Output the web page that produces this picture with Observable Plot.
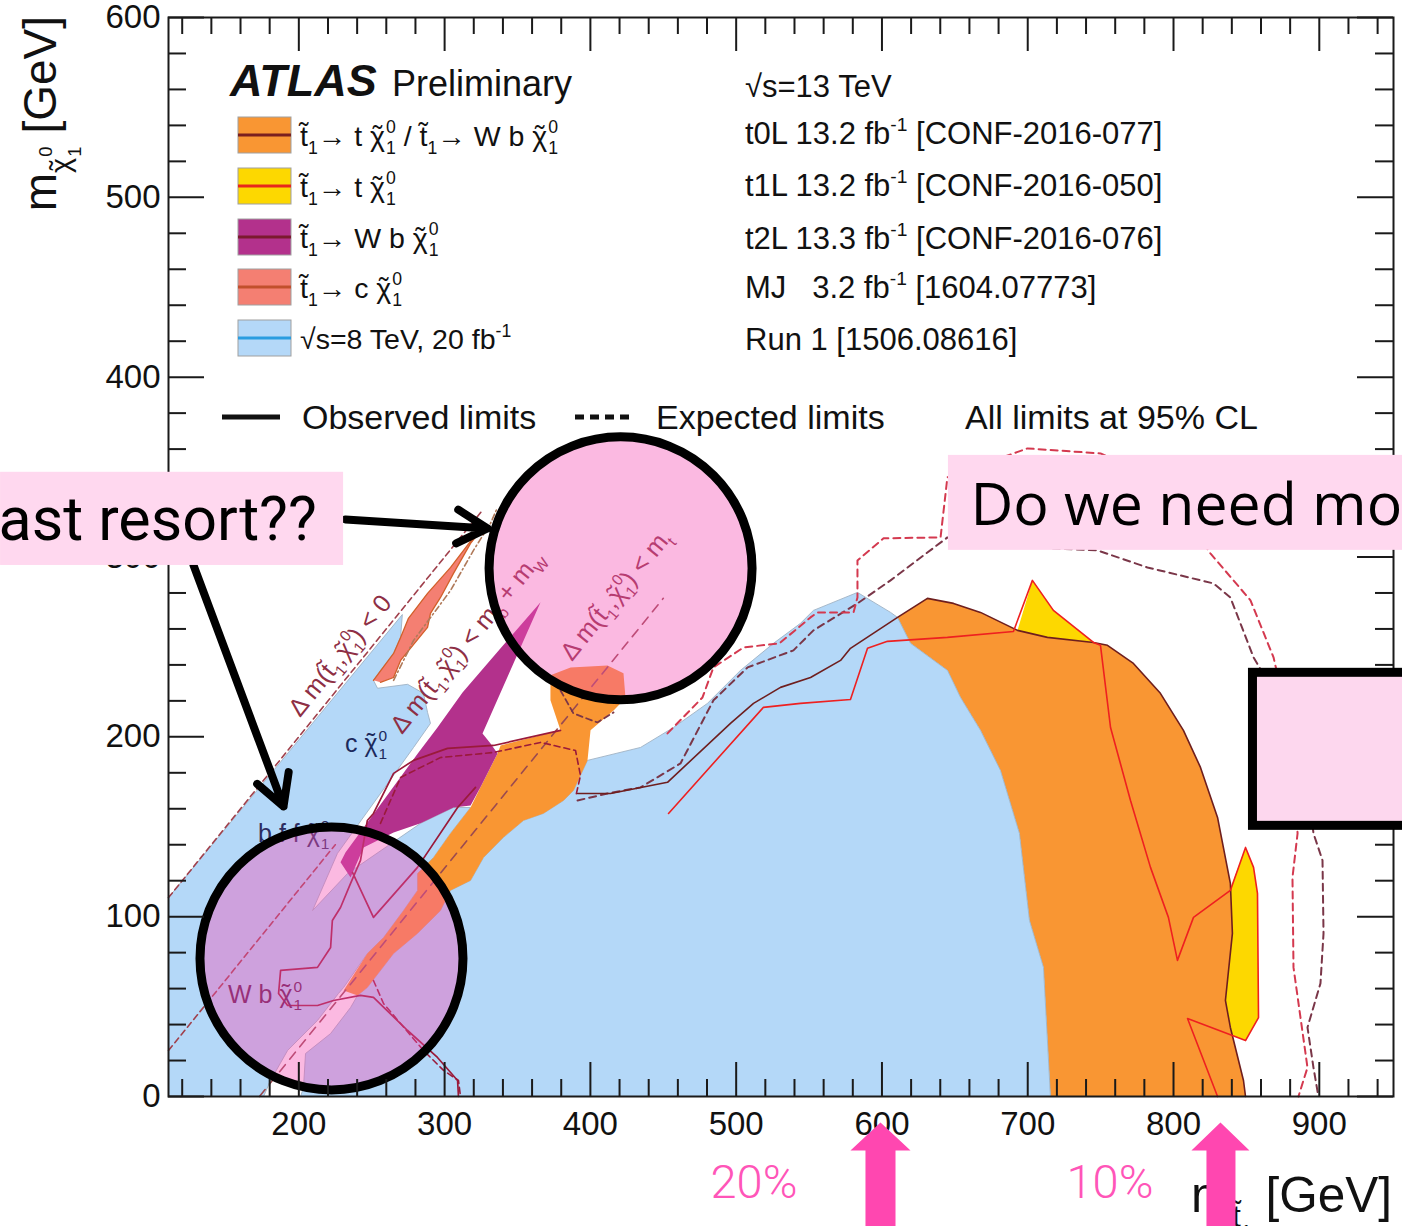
<!DOCTYPE html>
<html><head><meta charset="utf-8">
<script src="https://cdn.jsdelivr.net/npm/d3@7"></script>
<script src="https://cdn.jsdelivr.net/npm/@observablehq/plot@0.6"></script>
<style>
html,body{margin:0;padding:0;background:#fff;overflow:hidden;}
#chart{width:1402px;height:1226px;overflow:hidden;position:relative;}
</style></head><body><div id="chart"></div>
<script>
// ---------------- axis ticks (GeV) ----------------
const xMajorTicks = [200, 300, 400, 500, 600, 700, 800, 900];
const yMajorTicks = [0, 100, 200, 300, 400, 500, 600];
const xMinorTicks = d3.range(120, 951, 20).filter(v => v % 100 !== 0);
const yMinorTicks = d3.range(20, 600, 20).filter(v => v % 100 !== 0);

// ---------------- excluded regions [m_stop, m_LSP] in GeV ----------------
const run1StripRegion = [[110.6,0],[110.6,110.6],[271,268],[269.8,255.3],[265,246.4],[256,236.9],[251.2,231.4],[254,227],[274.6,229.2],[285.5,224.2],[288.3,213.6],[290.3,207.5],[278.7,194.1],[226.5,135.2],[209.4,103.4],[233.4,124],[283.5,151.9],[306.1,160.7],[317.8,160.7],[304,146.3],[292.4,132.9],[281.4,124],[281.4,114.6],[271.8,103.4],[258.1,88.4],[247,79.5],[230.7,60.6],[227.2,57.3],[212.8,42.3],[192.3,25.6],[180.6,8.9],[175.8,0]];
const run1MainRegion = [[201.2,0],[203.2,5],[204.6,23.9],[221.8,35],[235.5,49.5],[240.3,56.2],[247,60.6],[265,79.5],[281.4,90.7],[297.2,103.4],[304,114.6],[317.8,120.1],[326.7,132.9],[340.4,144.1],[354.1,153.5],[367.8,157.4],[381.6,164.6],[388.4,170.2],[398,186.9],[434.4,194.1],[457,205.2],[480.3,218.6],[502.9,236.9],[525.6,252],[544.1,263.1],[553,270.3],[583.2,280.3],[605.9,269.2],[610.7,266.4],[619.6,252],[645,236.9],[653.9,221.9],[667.6,203.6],[681.3,181.3],[694.3,146.3],[701.2,97.9],[710.8,71.8],[715.6,0]];
const t0LMainRegion = [[610.7,266.4],[631.2,277],[649.1,274.2],[667.6,269.2],[693,259.2],[713.5,255.3],[745.1,252.5],[754.7,250.9],[772.5,240.8],[791,224.2],[806.8,203.6],[818.5,183],[830.2,155.2],[839,118.5],[840.4,90.7],[835.6,53.4],[839,38.4],[848,8.9],[849.4,0],[715.6,0],[710.8,71.8],[701.2,97.9],[694.3,146.3],[681.3,181.3],[667.6,203.6],[653.9,221.9],[645,236.9],[619.6,252]];
const t0LCorridor = [[230.7,59],[247,79.5],[258.1,88.4],[271.8,103.4],[281.4,114.6],[281.4,124],[292.4,132.9],[304,146.3],[317.8,160.7],[324.6,171.9],[336.3,190.8],[338.4,195.2],[379.5,203.6],[372.6,220.3],[372.6,234.2],[386.4,238.6],[411.7,239.7],[422.7,235.3],[424.1,221.4],[415.9,214.7],[400.1,203.6],[398,186.9],[388.4,170.2],[381.6,164.6],[367.8,157.4],[354.1,153.5],[340.4,144.1],[326.7,132.9],[317.8,120.1],[304,114.6],[297.2,103.4],[281.4,90.7],[265,79.5],[247,60.6],[240.3,56.2]];
const wbRegion = [[365.8,274.8],[338.4,249.2],[312.3,224.7],[295.1,205.2],[282.1,191.3],[232,135.7],[228.6,130.2],[235.5,121.8],[244.4,138.5],[265,146.8],[283.5,151.9],[306.1,160.7],[317.8,161.8],[324.6,171.9],[336.3,190.8],[331.5,196.3],[326,201.9]];
const cRegion = [[251.2,231.4],[265,246.4],[269.8,255.3],[275.2,265.9],[288.3,279.8],[304.1,294.2],[319.8,310.9],[326,315.9],[317.8,307.6],[306.1,290.9],[297.2,277.5],[290.3,268.6],[288.3,260.9],[269.8,242.5],[265,233],[256,230.3]];
const ttTriangle = [[693,259.2],[703.2,287],[717.6,270.3],[745.1,252.5],[713.5,255.3]];
const ttSliver = [[839,115.7],[849.4,138.5],[854.9,127.4],[857.6,112.9],[858.3,43.9],[849.4,31.1],[840.4,33.9],[835.6,53.4],[840.4,90.7]];

// ---------------- limit contours ----------------
const t0LObserved = [[391.2,168.5],[413.8,168.5],[452.9,174.7],[496.1,207.5],[511.9,218.6],[530.4,227.5],[551,233],[571.6,242.5],[578.4,249.2],[610.7,266.4],[631.2,277],[649.1,274.2],[667.6,269.2],[693,259.2],[713.5,255.3],[745.1,252.5],[754.7,250.9],[772.5,240.8],[791,224.2],[806.8,203.6],[818.5,183],[830.2,155.2],[839,118.5],[840.4,90.7],[835.6,53.4],[839,38.4],[848,8.9],[849.4,0]];
const t1LObserved = [[453.6,157.4],[518.7,216.4],[544.1,218.6],[578.4,220.8],[590.1,249.2],[603.8,253.1],[644.9,255.3],[690.2,258.6],[703.2,287],[717.6,270.3],[745.1,252.5],[749.9,250.9],[756.8,205.2],[770.5,164.6],[784.2,127.4],[796.5,99.6],[802.7,75.7],[813.7,99.6],[839,114.6],[849.4,138.5],[854.9,127.4],[857.6,112.9],[858.3,43.9],[849.4,31.1],[840.4,33.9],[809.6,43.4],[830.2,0]];
const t0LExpected = [[391.2,164.6],[411.7,168.5],[434.4,171.9],[461.8,185.2],[484.4,220.3],[507.8,238.6],[539.3,248.1],[553,259.2],[583.2,274.2],[605.9,287],[644.9,310.9],[681.3,307.6],[715.6,304.8],[747.8,303.7],[782.1,294.2],[827.4,285.3],[839,277.5],[854.9,244.2],[880.2,209.1],[892.6,170.2],[896,146.3],[902.2,131.3],[902.9,90.7],[900.8,62.9],[891.9,38.4],[896,16.1],[899.4,0]];
const t0LExpectedHead = [[379.5,225.8],[388.4,213],[404.8,208],[415.9,213.6]];
const t1LExpected = [[452.9,201.9],[476.9,221.9],[484.4,238.6],[505,249.7],[529.7,252],[551,266.4],[555.8,269.2],[580.5,269.2],[583.2,277.5],[583.2,298.1],[601.1,310.4],[640.2,310.9],[644.9,344.3],[699.8,360.4],[749.9,357.6],[791,342.6],[825.3,302],[852.8,275.9],[868.6,244.2],[880.2,203.6],[885.1,146.3],[881.6,121.8],[882.3,71.8],[887.1,43.9],[891.9,16.1],[885.7,0]];
const t2LObserved = [[379.5,203.6],[333.6,195.2],[302,193.6],[278.7,186.9],[265,179.7],[251.2,157.4],[247,153.5],[242.3,131.3],[235.5,118.5],[228.6,105.1],[223,97.9],[221.8,82.9],[212.8,71.8],[187.5,70.1],[186.1,57.3],[192.3,50.6],[212.8,50.6],[223.8,53.4],[242.3,56.2],[251.2,55.1],[274.6,36.7],[295.1,21.7],[308.9,8.9],[309.5,0]];
const t2LObservedBranch = [[236.8,124.6],[251.2,99.6],[281.4,127.4],[308.9,160.7],[321.2,171.9]];
const t2LExpected = [[256,151.9],[269.8,177.4],[297.2,188.5],[333.6,191.3],[365.8,196.9],[389.8,192.4],[393.2,178.5],[389.8,166.3]];
const t2LExpectedLow = [[251.2,64.5],[258.1,51.7],[285.5,25.6],[299.3,14.5],[309.5,8.9],[310.9,0]];
const cExpected = [[265,231.4],[278.7,253.6],[304.1,281.4],[319.8,303.7],[331.5,318.7],[336.3,327.6]];

// kinematic boundaries
const diagDm0 = [[110.6,110.6],[325,325]];
const diagDmWb = [[110.6,25.6],[225,140]];
const diagDmT = [[173,0],[450,277]];

// ---------------- annotations (data coordinates) ----------------
const calloutCircles = [{x: 420.7, y: 293.7}, {x: 222.4, y: 76.8}];
const calloutBoxes = [{x1: -4.6, x2: 230.7, y1: 295.3, y2: 347.1}, {x1: 645.6, x2: 962.5, y1: 303.7, y2: 356.5}];
const calloutTexts = [{text: "ast resort??", x: -6, y: 309.2}, {text: "Do we need mo", x: 660.7, y: 317.6}];
const blankPanel = [{x1: 854.5, x2: 969.4, y1: 150.5, y2: 235.6}];
const blackArrows = [{x1: 232, y1: 320.9, x2: 329.4, y2: 315.9}, {x1: 127.8, y1: 295.3, x2: 189.5, y2: 161.3}];
const pinkArrows = [
  ...[[599,-14.5],[619.6,-30],[609.3,-30],[609.3,-76],[588.7,-76],[588.7,-30],[578.4,-30]].map(p => ({arrow: "A", x: p[0], y: p[1]})),
  ...[[832.2,-14.5],[852.1,-30],[842.5,-30],[842.5,-76],[822.6,-76],[822.6,-30],[812.3,-30]].map(p => ({arrow: "B", x: p[0], y: p[1]}))
];
const pinkNotes = [{text: "20%", x: 482.4, y: -56.7}, {text: "10%", x: 726.6, y: -56.7}];

// ---------------- text helpers ----------------
const SUB = s => ({t: s, size: 0.62, off: 0.28});
const SUP = s => ({t: s, size: 0.62, off: -0.42});
const SUBSUP = (sup, sub, k = 1, dx0 = 0) => [
  {t: sup, size: 0.62 * k, off: -0.45 * k, dx: dx0},
  {t: sub, size: 0.62 * k, off: 0.28 * k, dx: -0.556 * 0.62 * k * sup.length}
];
const TT = "t\u0303";
// chi with a tilde drawn above it (k = relative size)
const chiT = (k = 1, off = 0) => [{t: "\u03C7", size: k, off}, {t: "\u02DC", size: k, off: off - 0.04 * k, dx: -0.43 * k}];
const chi10 = [...chiT(), ...SUBSUP("0", "1", 1, 0.13)];
const stop1 = [TT, SUB("1")];

const legendLabels = [
  [...stop1, "\u2192 t ", ...chi10, " / ", ...stop1, "\u2192 W b ", ...chi10],
  [...stop1, "\u2192 t ", ...chi10],
  [...stop1, "\u2192 W b ", ...chi10],
  [...stop1, "\u2192 c ", ...chi10],
  ["\u221As=8 TeV, 20 fb", SUP("-1")]
];
const legendFills = ["#f99633", "#fdd800", "#b3318c", "#f47f72", "#b4d8f8"];
const legendLines = ["#7a1f1f", "#e8261c", "#7a1a2e", "#c1502c", "#2a9de0"];
const analysisRefs = [
  ["\u221As=13 TeV"],
  ["t0L 13.2 fb", SUP("-1"), " [CONF-2016-077]"],
  ["t1L 13.2 fb", SUP("-1"), " [CONF-2016-050]"],
  ["t2L 13.3 fb", SUP("-1"), " [CONF-2016-076]"],
  ["MJ   3.2 fb", SUP("-1"), " [1604.07773]"],
  ["Run 1 [1506.08616]"]
];
const dmHead = ["\u0394 m(", ...stop1, ",", ...chi10, ") < "];
const diagLabels = [
  {x: 201.2, y: 210.2, segs: [...dmHead, "0"]},
  {x: 271.1, y: 200.8, segs: [...dmHead, "m", SUB("b"), " + m", SUB("W")]},
  {x: 387.8, y: 241.4, segs: [...dmHead, "m", SUB("t")]}
];
const regionLabels = [
  {x: 232, y: 191.3, segs: ["c ", ...chi10], color: "#1c2a5c"},
  {x: 172.4, y: 141.3, segs: ["b f f ", ...chi10], color: "#2c2c60"},
  {x: 151.8, y: 51.7, segs: ["W b ", ...chi10], color: "#5a1a50"}
];

function rich(sel, x, y, segs, fs, attrs) {
  const t = sel.append("text").attr("x", x).attr("y", y).attr("font-size", fs).style("white-space", "pre");
  if (attrs) for (const k in attrs) t.attr(k, attrs[k]);
  let prev = 0;
  for (const s0 of segs) {
    const s = typeof s0 === "string" ? {t: s0} : s0;
    const size = s.size || 1, off = s.off || 0;
    const ts = t.append("tspan").text(s.t);
    if (size !== 1) ts.attr("font-size", fs * size);
    const dy = (off - prev) * fs;
    if (dy) ts.attr("dy", dy);
    if (s.dx) ts.attr("dx", s.dx * fs);
    prev = off;
  }
  return t;
}

// ---------------- plot ----------------
const W = 1402, H = 1226, mL = 168, mR = 9, mT = 17, mB = 130;
const frameW = W - mL - mR, frameH = H - mT - mB;
const ORANGE = "#f99633", BLUE = "#b4d8f8", PURPLE = "#b3318c", CORAL = "#f47f72", YELLOW = "#fdd800";
const CIRCLE_FILL = "#f54fb5", PINK = "#ff47b0";
const poly = (data, opts) => Plot.line(data, {x: d => d[0], y: d => d[1], ...opts});
const TICK = {stroke: "#1a1a1a", strokeWidth: 2};

const plot = Plot.plot({
  width: W, height: H, marginLeft: mL, marginRight: mR, marginTop: mT, marginBottom: mB,
  x: {domain: [110.6, 950.9]},
  y: {domain: [0, 600]},
  style: {fontFamily: "'Liberation Sans', Arial, sans-serif", background: "white", color: "#111"},
  marks: [
    poly(t0LMainRegion, {fill: ORANGE, stroke: "none"}),
    poly(run1StripRegion, {fill: BLUE, stroke: "#9fb2c4", strokeWidth: 0.9}),
    poly(run1MainRegion, {fill: BLUE, stroke: "#9fb2c4", strokeWidth: 0.9}),
    poly(t0LCorridor, {fill: ORANGE, stroke: "none"}),
    poly(wbRegion, {fill: PURPLE, stroke: "none"}),
    poly(cRegion, {fill: CORAL, stroke: "#d2602a", strokeWidth: 1.3}),
    poly(ttTriangle, {fill: YELLOW, stroke: "none"}),
    poly(ttSliver, {fill: YELLOW, stroke: "none"}),
    // kinematic lines
    poly(diagDm0, {stroke: "#a0404c", strokeWidth: 1.6, strokeDasharray: "6,4"}),
    poly(diagDmWb, {stroke: "#a0404c", strokeWidth: 1.6, strokeDasharray: "6,4"}),
    poly(diagDmT, {stroke: "#9a4a50", strokeWidth: 1.6, strokeDasharray: "9,7"}),
    poly(cExpected, {stroke: "#b07a5a", strokeWidth: 1.6, strokeDasharray: "6,3,1.5,3"}),
    // limits
    poly(t0LExpected, {stroke: "#7a3648", strokeWidth: 2, strokeDasharray: "7,5"}),
    poly(t0LExpectedHead, {stroke: "#7a3648", strokeWidth: 1.8, strokeDasharray: "6,4"}),
    poly(t1LExpected, {stroke: "#d4394f", strokeWidth: 2, strokeDasharray: "7,5"}),
    poly(t2LExpected, {stroke: "#9a1a3a", strokeWidth: 1.6, strokeDasharray: "6,4"}),
    poly(t2LExpectedLow, {stroke: "#9a1a3a", strokeWidth: 1.6, strokeDasharray: "6,4"}),
    poly(t2LObserved, {stroke: "#9a1a3a", strokeWidth: 1.7}),
    poly(t2LObservedBranch, {stroke: "#9a1a3a", strokeWidth: 1.7}),
    poly(t0LObserved, {stroke: "#6e1e1e", strokeWidth: 1.6}),
    poly(t1LObserved, {stroke: "#ee2020", strokeWidth: 1.6}),
    // callout circles
    Plot.dot(calloutCircles, {x: "x", y: "y", r: 131.5, fill: CIRCLE_FILL, fillOpacity: 0.4, stroke: "#000", strokeWidth: 9}),
    // frame, ticks, tick labels
    Plot.frame({stroke: "#1a1a1a", strokeWidth: 2}),
    Plot.ruleX(xMajorTicks, {...TICK, insetTop: frameH - 34}),
    Plot.ruleX(xMinorTicks, {...TICK, insetTop: frameH - 17}),
    Plot.ruleX(xMajorTicks, {...TICK, insetBottom: frameH - 34}),
    Plot.ruleX(xMinorTicks, {...TICK, insetBottom: frameH - 17}),
    Plot.ruleY(yMajorTicks, {...TICK, insetRight: frameW - 36}),
    Plot.ruleY(yMinorTicks, {...TICK, insetRight: frameW - 18}),
    Plot.ruleY(yMajorTicks, {...TICK, insetLeft: frameW - 36}),
    Plot.ruleY(yMinorTicks, {...TICK, insetLeft: frameW - 18}),
    Plot.axisX({ticks: xMajorTicks, tickSize: 0, tickPadding: 15, fontSize: 33, label: null, tickFormat: d => String(d)}),
    Plot.axisY({ticks: yMajorTicks, tickSize: 0, tickPadding: 8, fontSize: 33, label: null, tickFormat: d => String(d)}),
    // annotations
    Plot.arrow(blackArrows, {x1: "x1", y1: "y1", x2: "x2", y2: "y2", stroke: "#000", strokeWidth: 8, headLength: 6.5, headAngle: 58}),
    Plot.rect(calloutBoxes, {x1: "x1", x2: "x2", y1: "y1", y2: "y2", fill: "#ffd8ef"}),
    Plot.text(calloutTexts.slice(0, 1), {x: "x", y: "y", text: "text", textAnchor: "start", lineAnchor: "bottom", fontSize: 61, fontFamily: "Roboto", fill: "#000"}),
    Plot.text(calloutTexts.slice(1), {x: "x", y: "y", text: "text", textAnchor: "start", lineAnchor: "bottom", fontSize: 59, fontFamily: "Open Sans", fill: "#000"}),
    Plot.rect(blankPanel, {x1: "x1", x2: "x2", y1: "y1", y2: "y2", fill: "#fdd7ee", stroke: "#000", strokeWidth: 9}),
    Plot.line(pinkArrows, {x: "x", y: "y", z: "arrow", fill: PINK, stroke: "none"}),
    Plot.text(pinkNotes, {x: "x", y: "y", text: "text", textAnchor: "start", lineAnchor: "bottom", fontSize: 47, fontFamily: "Roboto", fontWeight: 300, fill: "#ff55b8"})
  ]
});

document.getElementById("chart").appendChild(plot);
const svg = d3.select(plot);
const sx = plot.scale("x"), sy = plot.scale("y");
const FONT = "'Liberation Sans', Arial, sans-serif";

// find mark groups by their constant fills
const circleG = svg.selectAll("g").filter(function() { return this.getAttribute("fill") === CIRCLE_FILL; }).node();
const pinkG = svg.selectAll("g").filter(function() { return this.getAttribute("fill") === PINK; }).node();

// in-plot labels, beneath the callout circles
const lab = d3.select(plot.insertBefore(document.createElementNS("http://www.w3.org/2000/svg", "g"), circleG))
  .attr("font-family", FONT).attr("text-anchor", "start");
for (const d of diagLabels) {
  rich(lab, 0, 0, d.segs, 25, {fill: "#8e2f45", transform: `translate(${sx.apply(d.x)},${sy.apply(d.y)}) rotate(-51)`});
}
for (const d of regionLabels) {
  rich(lab, sx.apply(d.x), sy.apply(d.y), d.segs, 25, {fill: d.color});
}

// axis titles, beneath the pink arrows
const ttl = d3.select(plot.insertBefore(document.createElementNS("http://www.w3.org/2000/svg", "g"), pinkG))
  .attr("font-family", FONT).attr("fill", "#111").attr("text-anchor", "start");
rich(ttl, 0, 0, ["m", ...chiT(0.62, 0.3), {t: "0", size: 0.4, off: -0.08, dx: 0.09}, {t: "1", size: 0.4, off: 0.55, dx: -0.556 * 0.4}, " [GeV]"], 46,
  {transform: "translate(56,16) rotate(-90)", "text-anchor": "end"});
rich(ttl, 1392, 1212, ["m", {t: TT, size: 0.62, off: 0.3}, {t: "1", size: 0.4, off: 0.55}, " [GeV]"], 49.5, {"text-anchor": "end"});

// legend
const leg = svg.append("g").attr("font-family", FONT).attr("fill", "#111").attr("text-anchor", "start");
leg.append("text").attr("x", 230).attr("y", 96).attr("font-size", 45).attr("font-weight", "bold").attr("font-style", "italic").text("ATLAS");
leg.append("text").attr("x", 392).attr("y", 96).attr("font-size", 36).text("Preliminary");
const rowY = [135, 186, 237, 287, 338];
legendLabels.forEach((segs, i) => {
  leg.append("rect").attr("x", 238).attr("y", rowY[i] - 18).attr("width", 53).attr("height", 36)
    .attr("fill", legendFills[i]).attr("stroke", "#a0a0a0").attr("stroke-width", 1);
  leg.append("line").attr("x1", 238).attr("x2", 291).attr("y1", rowY[i]).attr("y2", rowY[i])
    .attr("stroke", legendLines[i]).attr("stroke-width", 3);
  rich(leg, 300, rowY[i] + 11, segs, 28.5);
});
const refY = [97, 144, 196, 249, 298, 350];
analysisRefs.forEach((segs, i) => rich(leg, 745, refY[i], segs, 31));
leg.append("line").attr("x1", 222).attr("x2", 280).attr("y1", 417).attr("y2", 417).attr("stroke", "#111").attr("stroke-width", 5);
leg.append("line").attr("x1", 575).attr("x2", 632).attr("y1", 417).attr("y2", 417).attr("stroke", "#111").attr("stroke-width", 5).attr("stroke-dasharray", "9,6");
leg.append("text").attr("x", 302).attr("y", 429).attr("font-size", 34).text("Observed limits");
leg.append("text").attr("x", 656).attr("y", 429).attr("font-size", 34).text("Expected limits");
leg.append("text").attr("x", 965).attr("y", 429).attr("font-size", 34).text("All limits at 95% CL");
</script></body></html>
